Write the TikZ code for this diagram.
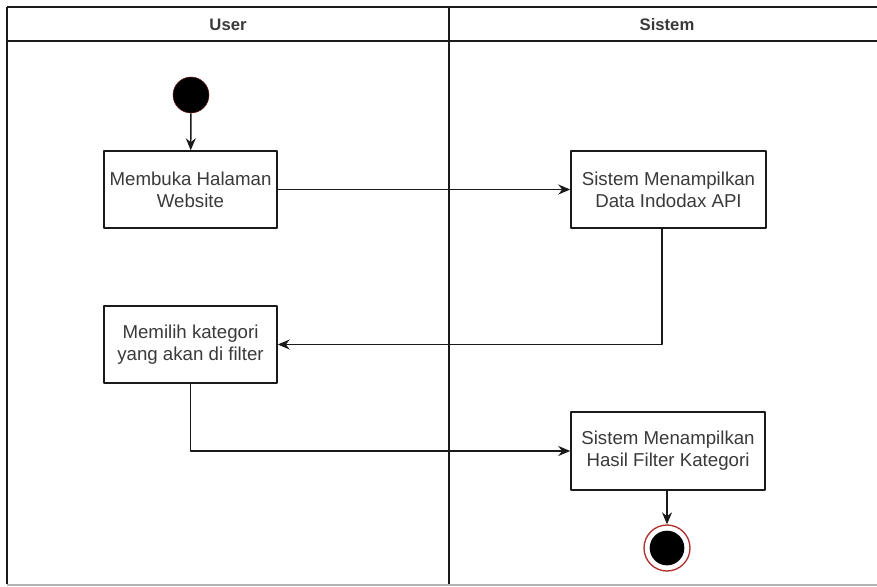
\documentclass[tikz,border=0pt]{standalone}
\usepackage{fontspec}
\setmainfont{Liberation Sans}
\usetikzlibrary{arrows.meta}
\definecolor{teks}{HTML}{3A3A3A}
\definecolor{garis}{HTML}{1A1A1A}
\definecolor{merah}{HTML}{B03030}
\tikzset{
  aktivitas/.style={draw=garis, line width=1.1pt, fill=white, text=teks, align=center,
    minimum height=57.75pt, font=\fontsize{14}{16.5}\selectfont},
  judul/.style={text=teks, font=\bfseries\fontsize{12.5}{14}\selectfont},
  awal/.style={circle, fill=black, draw=merah!60!black, line width=0.4pt, minimum size=27pt, inner sep=0pt},
  alur/.style={draw=garis, line width=1.1pt, ->}
}
\begin{document}
\begin{tikzpicture}[x=0.75pt, y=-0.75pt, >={Stealth[length=9pt,width=7.5pt]}, line join=round]
	\useasboundingbox (0,0) rectangle (877,586);
	% lajur
	\draw[garis, line width=1.5pt] (7,7)--(877,7) (7,41)--(877,41) (7,7)--(7,584) (449,7)--(449,584);
	\draw[gray!60, line width=1.2pt] (7,585)--(877,585);
	\node[judul] (user) at (228,25) {User};
	\node[judul] (sistem) at (667,25) {Sistem};
	% aktivitas
	\node[awal] (mulai) at (191,95) {};
	\node[aktivitas, minimum width=129.75pt] (buka) at (190.5,189.5) {Membuka Halaman\\Website};
	\node[aktivitas, minimum width=146.25pt] (tampil) at (668.5,189.5) {Sistem Menampilkan\\Data Indodax API};
	\node[aktivitas, minimum width=129.75pt] (pilih) at (190.5,344.5) {Memilih kategori\\yang akan di filter};
	\node[aktivitas, minimum width=145.5pt, minimum height=58.5pt] (hasil) at (668,451) {Sistem Menampilkan\\Hasil Filter Kategori};
	\node[circle, draw=merah, line width=1pt, minimum size=34.5pt, inner sep=0pt] (selesai) at (667,548) {};
	\node[circle, fill=black, minimum size=26pt, inner sep=0pt] at (selesai) {};
	% alur
	\draw[alur] (mulai) -- (buka);
	\draw[alur] (buka) -- (tampil);
	\draw[alur] ([xshift=-4.9pt]tampil.south) |- (pilih.east);
	\draw[alur] (pilih.south) |- (hasil.west);
	\draw[alur] (hasil.south -| selesai) -- (selesai.north);
\end{tikzpicture}
\end{document}
